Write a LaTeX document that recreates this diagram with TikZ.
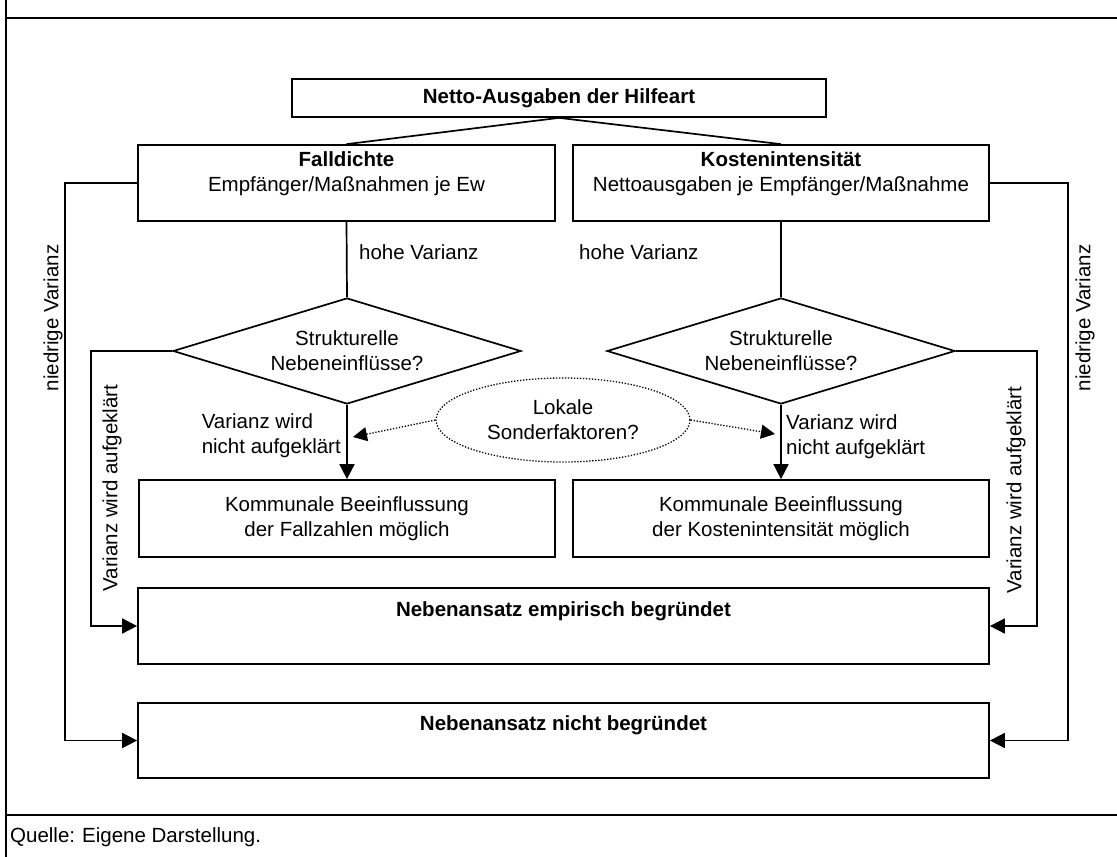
\documentclass[tikz,border=0pt]{standalone}
\usepackage{fontspec}
\setmainfont{Liberation Sans}
\usetikzlibrary{shapes.geometric,arrows.meta}
\begin{document}
\begin{tikzpicture}[x=1pt,y=-1pt,
  every node/.style={font=\fontsize{20.5}{25}\selectfont},
  box/.style={draw,line width=1.7pt,rectangle,inner sep=0pt,align=center},
  dec/.style={draw,line width=1.7pt,diamond,aspect=3.3,inner sep=0pt,minimum width=348pt,minimum height=106pt,align=center},
  oval/.style={draw,line width=1.3pt,dash pattern=on 1.3pt off 1.7pt,ellipse,inner sep=0pt,minimum width=254pt,minimum height=84pt,align=center},
  ln/.style={line width=1.7pt},
  arr/.style={line width=1.7pt,-{Triangle[length=15pt,width=15pt]}},
  dotarr/.style={line width=1.3pt,dash pattern=on 1.3pt off 1.7pt,-{Triangle[length=14pt,width=14pt]}},
  lbl/.style={inner sep=0pt,align=left},
  txt/.style={inner sep=0pt,align=center},
  frameline/.style={line width=2pt}]
\useasboundingbox (0,0) rectangle (1117,857);
% frame
\draw[frameline] (6,0) -- (6,857);
\draw[frameline] (6,18) -- (1117,18);
\draw[frameline] (6,815) -- (1117,815);
% boxes
\node[box,minimum width=534pt,minimum height=38pt] (top) at (559,98) {\textbf{Netto-Ausgaben der Hilfeart}};
\node[box,minimum width=417pt,minimum height=76pt] (fall) at (346.5,183) {};
\node[txt] (fallT) at (346.5,174) {\textbf{Falldichte}\\Empfänger/Maßnahmen je Ew};
\node[box,minimum width=416pt,minimum height=76pt] (kost) at (781,183) {};
\node[txt] (kostT) at (781,174) {\textbf{Kostenintensität}\\Nettoausgaben je Empfänger/Maßnahme};
\node[dec] (dl) at (347,351) {Strukturelle\\Nebeneinflüsse?};
\node[dec] (dr) at (781,351) {Strukturelle\\Nebeneinflüsse?};
\node[oval] (lok) at (563,420) {Lokale\\Sonderfaktoren?};
\node[box,minimum width=416pt,minimum height=77pt] (kl) at (347,518.5) {Kommunale Beeinflussung\\der Fallzahlen möglich};
\node[box,minimum width=416pt,minimum height=77pt] (kr) at (781,518.5) {Kommunale Beeinflussung\\der Kostenintensität möglich};
\node[box,minimum width=851pt,minimum height=76pt] (emp) at (563.5,626) {};
\node[txt] (empT) at (563.5,611) {\textbf{Nebenansatz empirisch begründet}};
\node[box,minimum width=851pt,minimum height=75pt] (nb) at (563.5,740.5) {};
\node[txt] (nbT) at (563.5,725) {\textbf{Nebenansatz nicht begründet}};
% helper coordinates
\coordinate (xo) at (65,0);
\coordinate (xi) at (91,0);
\coordinate (xi2) at (1037,0);
\coordinate (xo2) at (1068,0);
\coordinate (tipL) at (353,437);
\coordinate (tipR) at (775,434);
% connectors
\draw[ln] (top.south) -- (fall.north);
\draw[ln] (top.south) -- (kost.north);
\draw[ln] (fall.south) -- (dl.north);
\draw[ln] (kost.south) -- (dr.north);
\draw[arr] (dl.south) -- (kl.north);
\draw[arr] (dr.south) -- (kr.north);
\draw[dotarr] (lok.west) -- (tipL);
\draw[dotarr] (lok.east) -- (tipR);
\draw[arr] (fall.west) -- (fall.west -| xo) -- (nb.west -| xo) -- (nb.west);
\draw[arr] (dl.west) -- (dl.west -| xi) -- (emp.west -| xi) -- (emp.west);
\draw[arr] (kost.east) -- (kost.east -| xo2) -- (nb.east -| xo2) -- (nb.east);
\draw[arr] (dr.east) -- (dr.east -| xi2) -- (emp.east -| xi2) -- (emp.east);
% labels
\node[lbl,anchor=west] (hvL) at (359,252) {hohe Varianz};
\node[lbl,anchor=west] (hvR) at (579,252) {hohe Varianz};
\node[lbl,anchor=east] (nvL) at (341,436) {Varianz wird\\nicht aufgeklärt};
\node[lbl,anchor=west] (nvR) at (786,437) {Varianz wird\\nicht aufgeklärt};
\node[rotate=90] (niL) at (53,318) {niedrige Varianz};
\node[rotate=90] (niR) at (1085,318) {niedrige Varianz};
\node[rotate=90] (vaL) at (112,488) {Varianz wird aufgeklärt};
\node[rotate=90] (vaR) at (1016,490) {Varianz wird aufgeklärt};
% source
\node[anchor=west,inner sep=0pt] (q1) at (10,837) {Quelle:};
\node[anchor=west,inner sep=0pt] (q2) at (82,837) {Eigene Darstellung.};
\end{tikzpicture}
\end{document}
